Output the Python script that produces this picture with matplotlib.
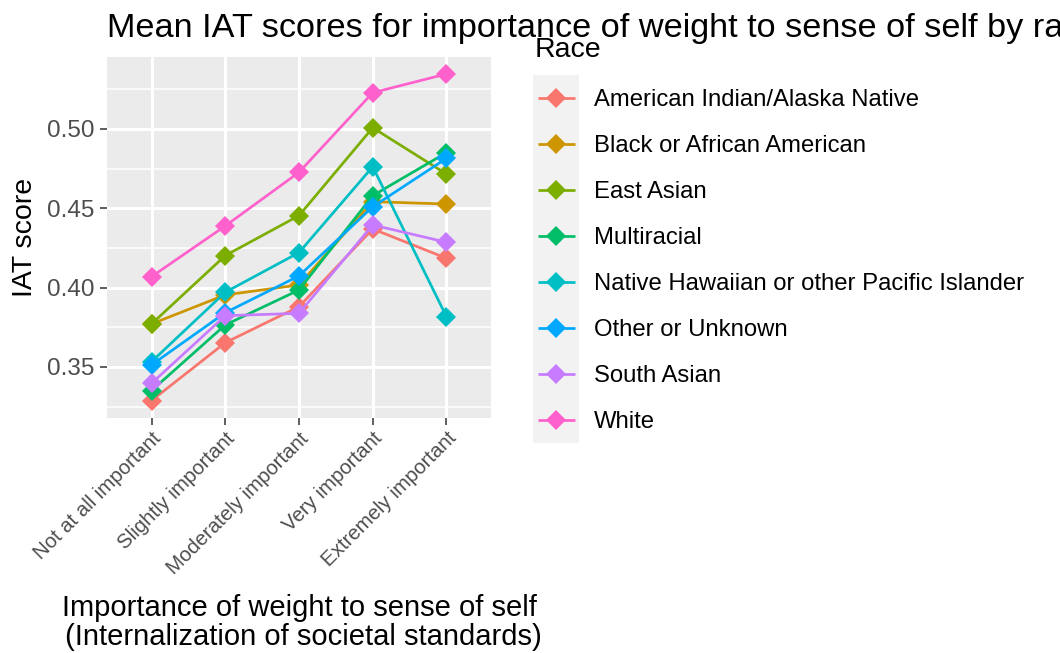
import matplotlib
matplotlib.use("Agg")
import matplotlib.pyplot as plt
from matplotlib.patches import Rectangle

plt.rcParams['font.family'] = ['Liberation Sans', 'DejaVu Sans']

categories = ["Not at all important", "Slightly important", "Moderately important",
              "Very important", "Extremely important"]
races = ["American Indian/Alaska Native", "Black or African American", "East Asian",
         "Multiracial", "Native Hawaiian or other Pacific Islander", "Other or Unknown",
         "South Asian", "White"]
colors = ["#F8766D", "#CD9600", "#7CAE00", "#00BE67", "#00BFC4", "#00A9FF",
          "#C77CFF", "#FF61CC"]

american_indian = [0.3288, 0.3653, 0.3880, 0.4370, 0.4185]
black = [0.3771, 0.3954, 0.4017, 0.4542, 0.4527]
east_asian = [0.3771, 0.4202, 0.4454, 0.5008, 0.4716]
multiracial = [0.3351, 0.3765, 0.3985, 0.4580, 0.4851]
native_hawaiian = [0.3533, 0.3971, 0.4221, 0.4762, 0.3817]
other_unknown = [0.3513, 0.3842, 0.4074, 0.4510, 0.4815]
south_asian = [0.3397, 0.3823, 0.3838, 0.4395, 0.4286]
white = [0.4069, 0.4389, 0.4727, 0.5229, 0.5347]

series = [american_indian, black, east_asian, multiracial, native_hawaiian,
          other_unknown, south_asian, white]

yticks = [0.35, 0.40, 0.45, 0.50]
yminor = [0.325, 0.375, 0.425, 0.475, 0.525]

W, H = 1060, 653
fig = plt.figure(figsize=(W / 100, H / 100), dpi=100)

# panel in pixels
pl, pr, pt, pb = 107.3, 490.7, 57.3, 417.7
ax = fig.add_axes([pl / W, 1 - pb / H, (pr - pl) / W, (pb - pt) / H])
ax.set_facecolor("#EBEBEB")
for s in ax.spines.values():
    s.set_visible(False)

x = list(range(len(categories)))
for vals, col, name in zip(series, colors, races):
    ax.plot(x, vals, color=col, lw=1.95, marker="D", ms=9.8, mew=0,
            label=name, zorder=3, solid_capstyle="butt")

ax.set_xlim(-0.6, len(categories) - 0.4)
ax.set_ylim(0.3180, 0.5452)
ax.set_xticks(x)
ax.set_xticklabels(categories, rotation=45, ha="right", va="top",
                   rotation_mode="anchor", fontsize=14.7, color="#4D4D4D")
ax.set_yticks(yticks)
ax.set_yticklabels(["%.2f" % v for v in yticks], fontsize=17.5, color="#4D4D4D")
ax.set_yticks(yminor, minor=True)
ax.tick_params(axis="both", which="major", length=5, width=1.1, color="#333333", pad=4.0)
ax.tick_params(axis="x", which="major", pad=3)
ax.tick_params(axis="y", which="minor", length=0)
ax.grid(True, which="major", color="white", lw=2.2, zorder=1)
ax.grid(True, which="minor", axis="y", color="white", lw=1.1, zorder=1)
ax.set_axisbelow(True)

ax.set_ylabel("IAT score", fontsize=20.5, labelpad=7)
ax.set_xlabel("Importance of weight to sense of self\n (Internalization of societal standards)",
              fontsize=21, labelpad=12, linespacing=1.05)

fig.text(pl / W, 1 - 37 / H, "Mean IAT scores for importance of weight to sense of self by race",
         fontsize=24.7, ha="left", va="baseline")

# legend drawn in pixel coordinates on an overlay
ov = fig.add_axes([0, 0, 1, 1], zorder=5)
ov.set_xlim(0, W)
ov.set_ylim(H, 0)
ov.axis("off")
ov.text(535, 57.3, "Race", fontsize=20.5, ha="left", va="baseline")
ov.add_patch(Rectangle((533.3, 74.5), 45.7, 368.5, facecolor="#F2F2F2", edgecolor="none"))
for i, (name, col) in enumerate(zip(races, colors)):
    yc = 97.7 + 46.0 * i
    ov.plot([538.3, 574.5], [yc, yc], color=col, lw=1.95, solid_capstyle="butt")
    ov.plot([556.4], [yc], marker="D", ms=9.8, mew=0, color=col)
    ov.text(594, yc, name, fontsize=17.2, ha="left", va="center_baseline")

fig.savefig("out.png", dpi=100)
